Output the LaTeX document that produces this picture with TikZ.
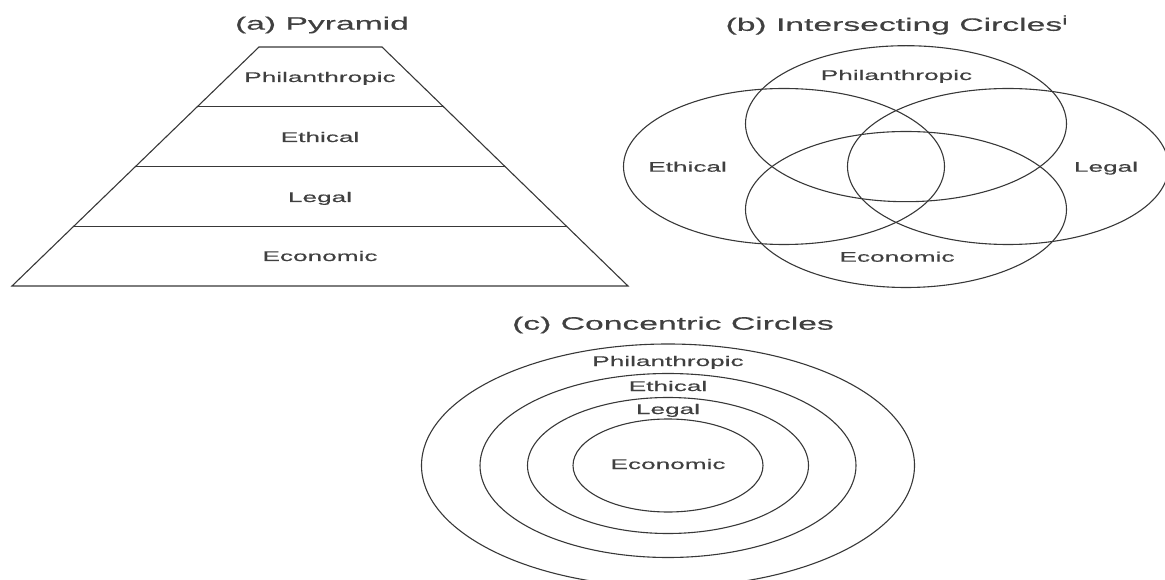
\documentclass[tikz,border=0pt]{standalone}
\usepackage{fontspec}
\setmainfont{Liberation Sans}
\newfontfamily\widefont[FakeStretch=1.87, FakeBold=0.4]{Liberation Sans}
\usetikzlibrary{positioning, calc}

\begin{document}
\begin{tikzpicture}[x=1pt, y=-1pt, line width=1.1pt, draw=black!78,
    lbl/.style={font=\widefont\fontsize{14}{16}\selectfont, text=black!75,
      inner sep=0pt, text height=10pt, text depth=0pt},
    ttl/.style={font=\widefont\fontsize{18}{20}\selectfont, text=black!75,
      inner sep=0pt}]
    \useasboundingbox (0,0) rectangle (1165,580);

    % Draw the pyramid
    \node[ttl] (ttl_a) at (322,25) {(a) Pyramid};
    \draw (12,286) coordinate (p_1) -- (259,47) coordinate (p_2)
      -- (382,47) coordinate (p_3) -- (628,286) coordinate (p_4) -- cycle;
    \foreach \t in {0.25,0.5,0.75}
      \draw ($(p_1)!\t!(p_2)$) -- ($(p_4)!\t!(p_3)$);

    \node[lbl] (pyr_phil) at (320,77) {Philanthropic};
    \node[lbl] (pyr_eth) at (320,137) {Ethical};
    \node[lbl] (pyr_leg) at (320,197) {Legal};
    \node[lbl] (pyr_eco) at (320,256) {Economic};

    % Draw four intersecting circles
    \node[ttl, anchor=west] (ttl_b) at (725,25) {(b) Intersecting Circles\textsuperscript{i}};
    \draw (906,123.7) coordinate (c_1) ellipse [x radius=160.5pt, y radius=78pt];
    \draw (906,209.5) coordinate (c_2) ellipse [x radius=160.5pt, y radius=78pt];
    \draw (784,166.5) coordinate (c_3) ellipse [x radius=160.5pt, y radius=78pt];
    \draw (1008,166.5) coordinate (c_4) ellipse [x radius=160.5pt, y radius=78pt];

    \node[lbl] (int_phil) at (896.5,75) {Philanthropic};
    \node[lbl] (int_eth) at (687.5,166.7) {Ethical};
    \node[lbl] (int_leg) at (1106,166.7) {Legal};
    \node[lbl] (int_eco) at (897,256.7) {Economic};

    % Draw concentric circles
    \node[ttl] (ttl_c) at (673,325) {(c) Concentric Circles};
    \coordinate (o) at (668,465.5);
    \draw (o) ellipse [x radius=246.5pt, y radius=121.5pt];
    \draw (o) ellipse [x radius=188pt, y radius=92pt];
    \draw (o) ellipse [x radius=140.5pt, y radius=68pt];
    \draw (o) ellipse [x radius=95pt, y radius=46.5pt];

    \node[lbl] (con_phil) at (668,361) {Philanthropic};
    \node[lbl] (con_eth) at (668,386) {Ethical};
    \node[lbl] (con_leg) at (668,409) {Legal};
    \node[lbl] (con_eco) at (668,464) {Economic};
  \end{tikzpicture}
\end{document}
